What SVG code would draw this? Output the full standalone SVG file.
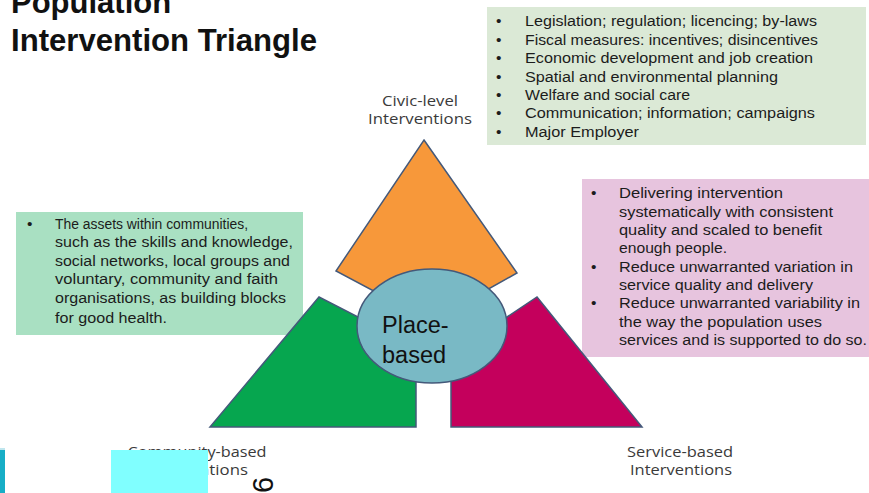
<svg xmlns="http://www.w3.org/2000/svg" width="869" height="493" viewBox="0 0 869 493">
  <style>
    .title { font-family: "Liberation Sans", Arial, sans-serif; font-weight: bold; font-size: 31px; fill: #111; }
    .box-text { font-family: "Liberation Sans", Arial, sans-serif; font-size: 15.5px; fill: #1c1c1c; }
    .label { font-family: "Open Sans", "Noto Sans", sans-serif; font-size: 14px; fill: #3a3a3a; text-anchor: middle; }
    .center-text { font-family: "Liberation Sans", Arial, sans-serif; font-size: 23.5px; fill: #111; }
    .piece { stroke: #44597a; stroke-width: 1.5; stroke-linejoin: miter; }
  </style>

  <rect width="869" height="493" fill="#ffffff"/>

  <!-- Heading -->
  <g id="title">
    <text class="title" x="11" y="13">Population</text>
    <text class="title" x="11" y="51" textLength="306" lengthAdjust="spacingAndGlyphs">Intervention Triangle</text>
  </g>

  <!-- Civic-level measures -->
  <g id="civic-box">
    <rect x="487" y="7" width="379" height="138" fill="#dbe9d6"/>
    <g class="box-text">
      <text x="496" y="26">•</text><text x="525" y="26" textLength="292" lengthAdjust="spacingAndGlyphs">Legislation; regulation; licencing; by-laws</text>
      <text x="496" y="45">•</text><text x="525" y="45" textLength="293" lengthAdjust="spacingAndGlyphs">Fiscal measures: incentives; disincentives</text>
      <text x="496" y="63">•</text><text x="525" y="63" textLength="288" lengthAdjust="spacingAndGlyphs">Economic development and job creation</text>
      <text x="496" y="82">•</text><text x="525" y="82" textLength="253" lengthAdjust="spacingAndGlyphs">Spatial and environmental planning</text>
      <text x="496" y="100">•</text><text x="525" y="100" textLength="165" lengthAdjust="spacingAndGlyphs">Welfare and social care</text>
      <text x="496" y="118">•</text><text x="525" y="118" textLength="290" lengthAdjust="spacingAndGlyphs">Communication; information; campaigns</text>
      <text x="496" y="137">•</text><text x="525" y="137" textLength="114" lengthAdjust="spacingAndGlyphs">Major Employer</text>
    </g>
  </g>

  <!-- Service-based measures -->
  <g id="service-box">
    <rect x="582" y="179" width="287" height="178" fill="#e7c4de"/>
    <g class="box-text">
      <text x="591" y="198">•</text><text x="619" y="198" textLength="164" lengthAdjust="spacingAndGlyphs">Delivering intervention</text>
      <text x="619" y="217" textLength="214" lengthAdjust="spacingAndGlyphs">systematically with consistent</text>
      <text x="619" y="235" textLength="203" lengthAdjust="spacingAndGlyphs">quality and scaled to benefit</text>
      <text x="619" y="253" textLength="108" lengthAdjust="spacingAndGlyphs">enough people.</text>
      <text x="591" y="272">•</text><text x="619" y="272" textLength="234" lengthAdjust="spacingAndGlyphs">Reduce unwarranted variation in</text>
      <text x="619" y="290" textLength="194" lengthAdjust="spacingAndGlyphs">service quality and delivery</text>
      <text x="591" y="308">•</text><text x="619" y="308" textLength="241" lengthAdjust="spacingAndGlyphs">Reduce unwarranted variability in</text>
      <text x="619" y="327" textLength="203" lengthAdjust="spacingAndGlyphs">the way the population uses</text>
      <text x="619" y="345" textLength="248" lengthAdjust="spacingAndGlyphs">services and is supported to do so.</text>
    </g>
  </g>

  <!-- Community-based assets -->
  <g id="community-box">
    <rect x="16" y="212" width="287" height="123" fill="#a9e0c2"/>
    <g class="box-text">
      <text x="27" y="229">•</text><text x="55" y="229" textLength="193" lengthAdjust="spacingAndGlyphs">The assets within communities,</text>
      <text x="55" y="247" textLength="238" lengthAdjust="spacingAndGlyphs">such as the skills and knowledge,</text>
      <text x="55" y="266" textLength="235" lengthAdjust="spacingAndGlyphs">social networks, local groups and</text>
      <text x="55" y="284" textLength="223" lengthAdjust="spacingAndGlyphs">voluntary, community and faith</text>
      <text x="55" y="303" textLength="231" lengthAdjust="spacingAndGlyphs">organisations, as building blocks</text>
      <text x="55" y="323" textLength="112" lengthAdjust="spacingAndGlyphs">for good health.</text>
    </g>
  </g>

  <!-- Triangle pieces -->
  <g id="civic-piece">
    <polygon class="piece" fill="#f7983a" points="424,140 517,273 460,305 400,305 336,271"/>
  </g>
  <g id="community-piece">
    <polygon class="piece" fill="#06a64f" points="319,297 400,338.5 416,360 416,427 210,427"/>
  </g>
  <g id="service-piece">
    <polygon class="piece" fill="#c4005c" points="537,297 642,427 451,427 451,360 470,341.7"/>
  </g>
  <g id="place-based">
    <ellipse class="piece" fill="#79b9c5" cx="432" cy="326" rx="75" ry="57"/>
    <text class="center-text" x="382" y="333">Place-</text>
    <text class="center-text" x="382" y="363">based</text>
  </g>

  <!-- Corner labels -->
  <g id="civic-label">
    <text class="label" x="420" y="106" textLength="76" lengthAdjust="spacingAndGlyphs">Civic-level</text>
    <text class="label" x="420" y="124" textLength="104" lengthAdjust="spacingAndGlyphs">Interventions</text>
  </g>
  <g id="service-label">
    <text class="label" x="680" y="457" textLength="106" lengthAdjust="spacingAndGlyphs">Service-based</text>
    <text class="label" x="681" y="475" textLength="102" lengthAdjust="spacingAndGlyphs">Interventions</text>
  </g>
  <g id="community-label">
    <text class="label" x="197" y="457" textLength="139" lengthAdjust="spacingAndGlyphs">Community-based</text>
    <text class="label" x="196" y="475" textLength="104" lengthAdjust="spacingAndGlyphs">Interventions</text>
  </g>

  <!-- Footer marks -->
  <rect x="0" y="448" width="5" height="2" fill="#bfe6ee"/>
  <rect x="0" y="450" width="5" height="43" fill="#17aec6"/>
  <rect x="111" y="450" width="97" height="43" fill="#80ffff"/>
  <text x="273" y="493" transform="rotate(-90 273 493)" font-family="Liberation Sans, Arial, sans-serif" font-size="29" fill="#111">6</text>
</svg>
